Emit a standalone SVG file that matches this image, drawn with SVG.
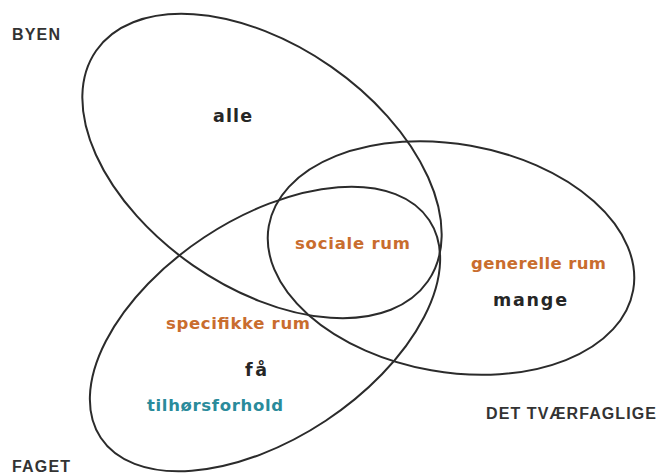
<svg xmlns="http://www.w3.org/2000/svg" width="660" height="476" viewBox="0 0 660 476">
  <style>
    .ring { fill: none; stroke: #2b2b2b; stroke-width: 2; }
    .title { font-family: "Liberation Sans", Arial, sans-serif; font-weight: bold; font-size: 16px; fill: #333333; }
    .lbl { font-family: "DejaVu Sans", Verdana, sans-serif; font-weight: bold; font-size: 16.5px; }
    .big { font-size: 17.5px; }
    .orange { fill: #c96d2e; }
    .dark { fill: #262626; }
    .teal { fill: #2a8b9b; }
  </style>
  <rect width="660" height="476" fill="#ffffff"/>
  <g id="byen">
    <ellipse class="ring" cx="262" cy="166" rx="202" ry="121" transform="rotate(34.8 262 166)"/>
    <text class="title" x="12" y="40" textLength="48" lengthAdjust="spacing">BYEN</text>
    <text class="lbl big dark" x="213" y="122" textLength="39" lengthAdjust="spacing">alle</text>
  </g>
  <g id="tvaerfaglige">
    <ellipse class="ring" cx="451" cy="258" rx="185" ry="114" transform="rotate(10 451 258)"/>
    <text class="title" x="486" y="419" textLength="170" lengthAdjust="spacing">DET TVÆRFAGLIGE</text>
    <text class="lbl orange" x="471" y="269" textLength="135" lengthAdjust="spacing">generelle rum</text>
    <text class="lbl big dark" x="493" y="306" textLength="74" lengthAdjust="spacing">mange</text>
  </g>
  <g id="faget">
    <ellipse class="ring" cx="265" cy="329" rx="197" ry="110" transform="rotate(-33.5 265 329)"/>
    <text class="title" x="12" y="472" textLength="58" lengthAdjust="spacing">FAGET</text>
    <text class="lbl orange" x="166" y="329" textLength="144" lengthAdjust="spacing">specifikke rum</text>
    <text class="lbl big dark" x="245" y="376" textLength="22" lengthAdjust="spacing">få</text>
    <text class="lbl teal" x="147" y="411" textLength="136" lengthAdjust="spacing">tilhørsforhold</text>
  </g>
  <g id="center">
    <text class="lbl orange" x="295" y="249" textLength="115" lengthAdjust="spacing">sociale rum</text>
  </g>
  <g id="connectors"/>
</svg>
